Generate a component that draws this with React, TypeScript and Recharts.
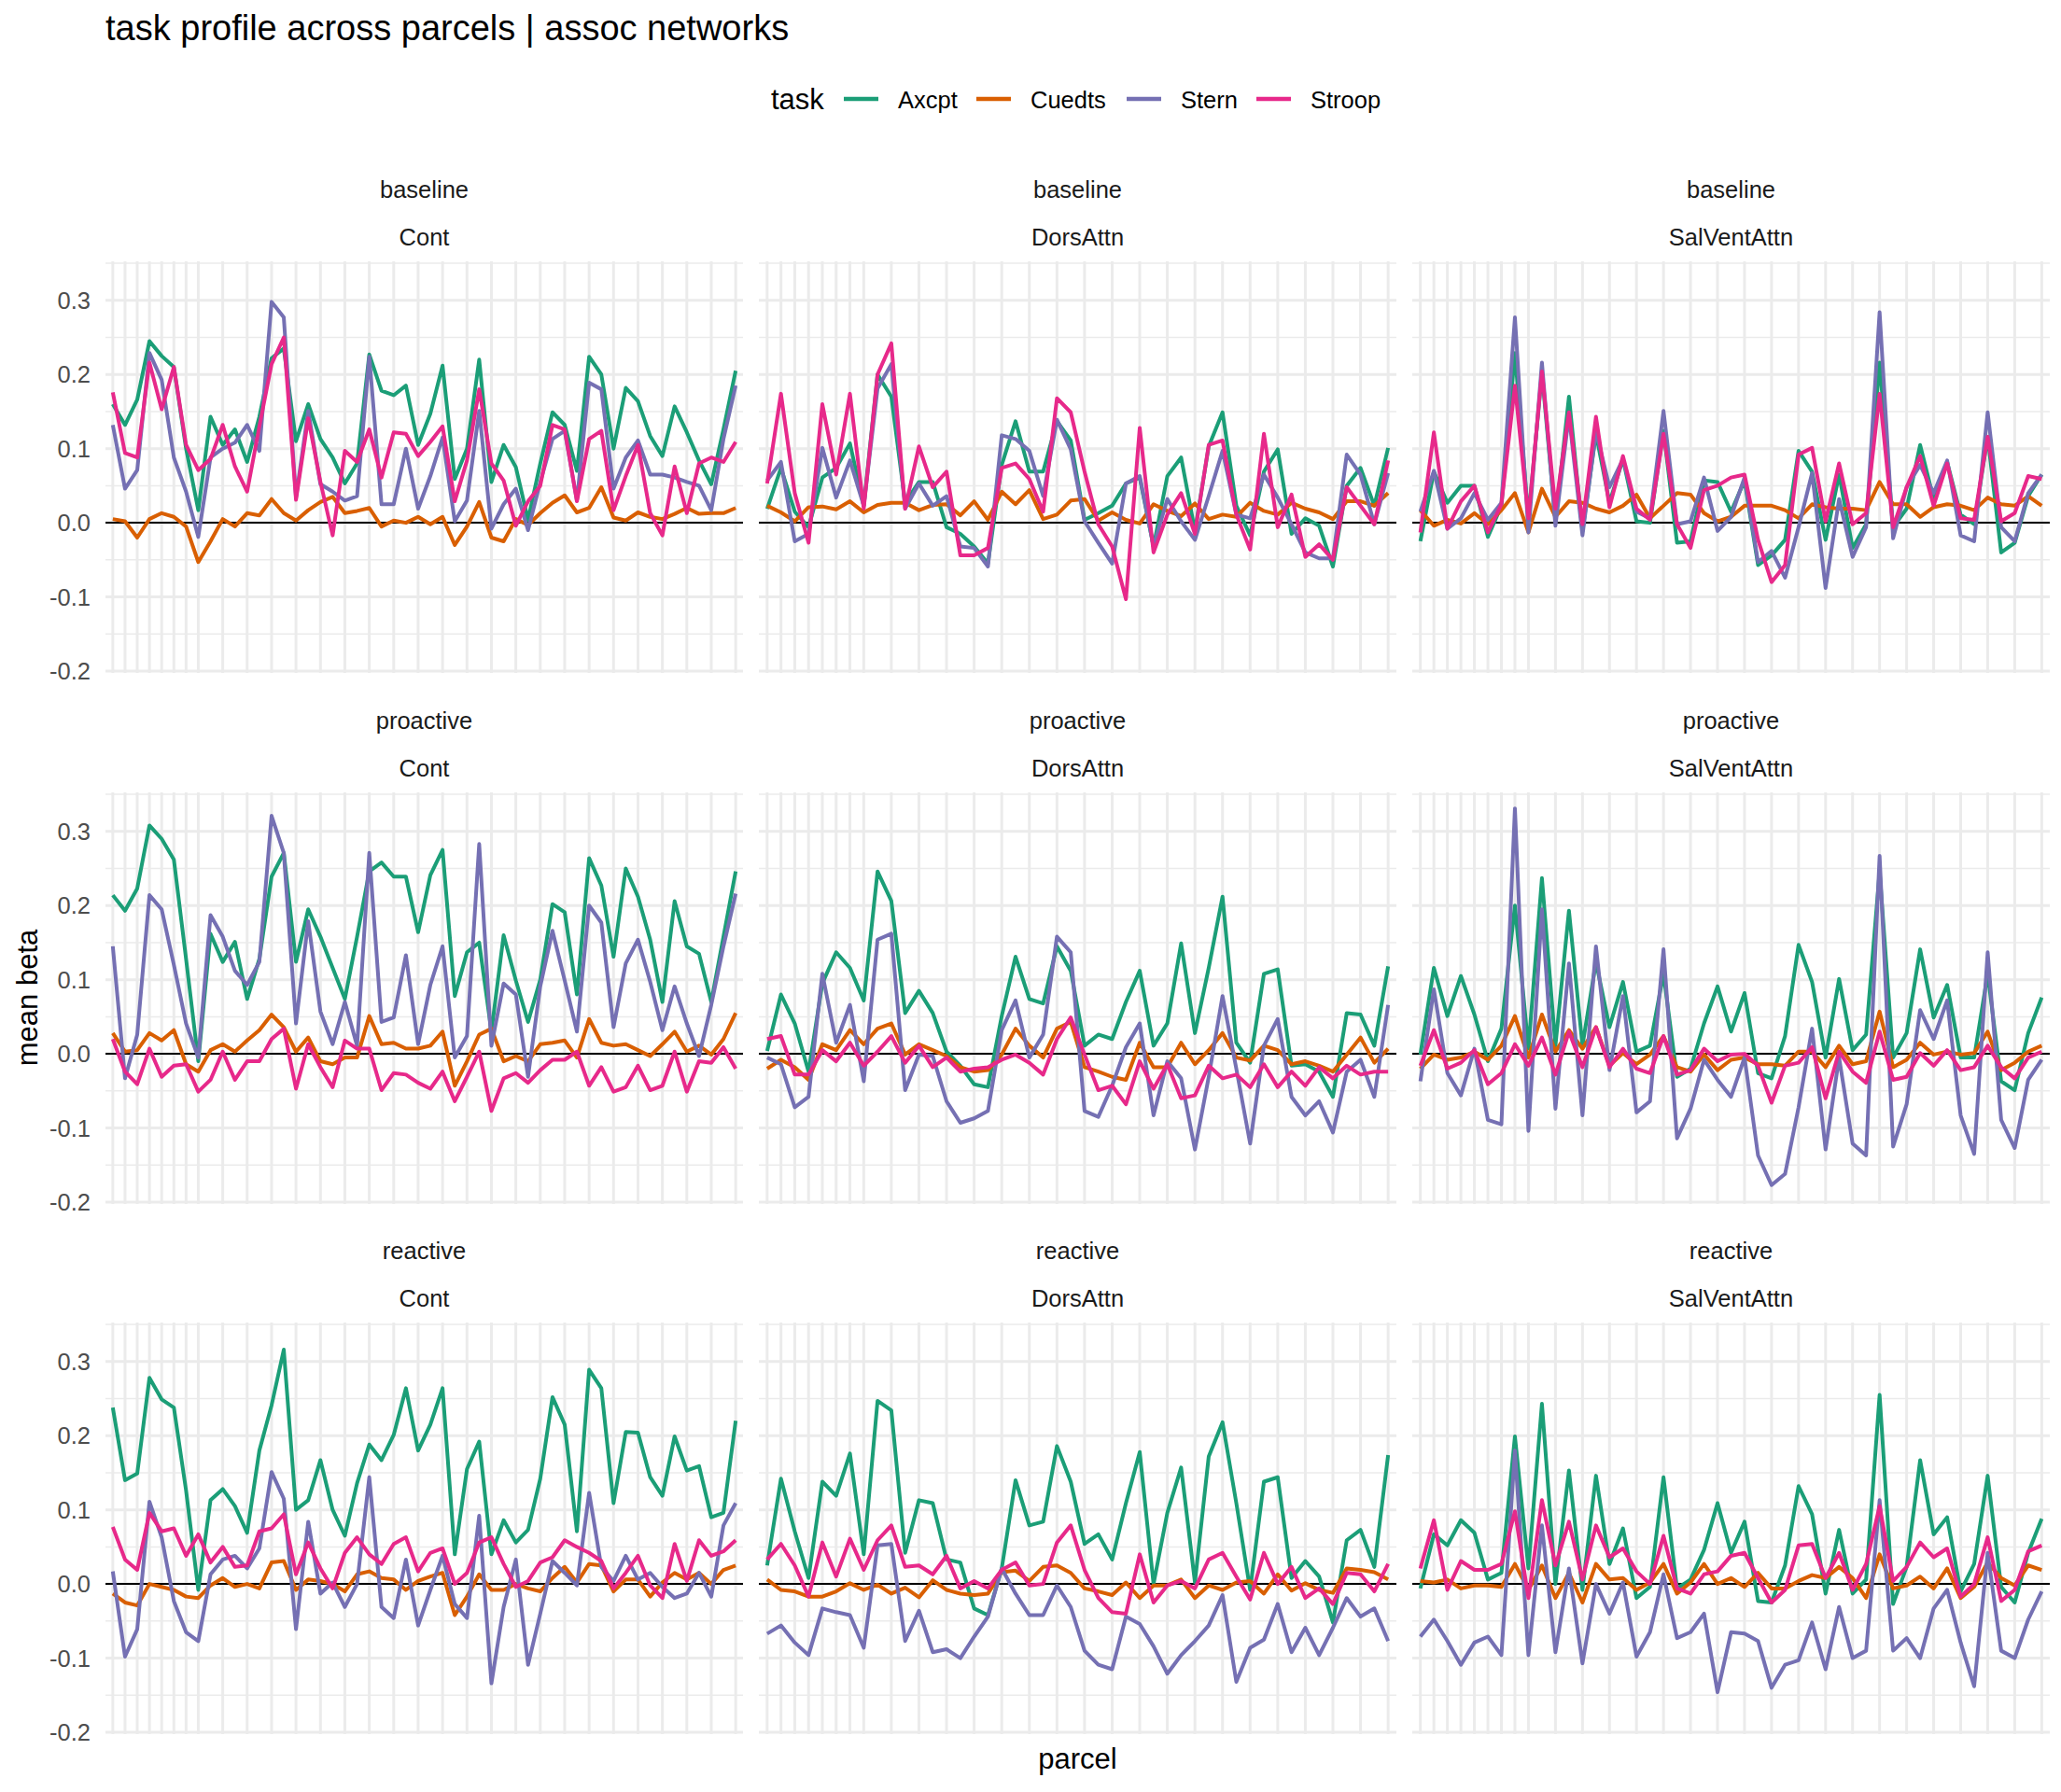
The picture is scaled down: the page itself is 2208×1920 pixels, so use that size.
import { CartesianGrid, Line, LineChart, ReferenceLine, XAxis, YAxis } from "recharts";

const tasks = ["Axcpt", "Cuedts", "Stern", "Stroop"];
const taskColors = ["#1B9E77", "#D95F02", "#7570B3", "#E7298A"];
const conditions = ["baseline", "proactive", "reactive"];
const networks = ["Cont", "DorsAttn", "SalVentAttn"];
const yTicks = [-0.2, -0.1, 0, 0.1, 0.2, 0.3];
const yMinorTicks = [-0.15, -0.05, 0.05, 0.15, 0.25, 0.35];

// ---- baseline ----
const baseContAxcpt = [0.16, 0.132, 0.166, 0.245, 0.225, 0.21, 0.1, 0.017, 0.143, 0.105, 0.126, 0.082, 0.143, 0.222, 0.235, 0.11, 0.16, 0.113, 0.088, 0.053, 0.08, 0.227, 0.178, 0.172, 0.185, 0.105, 0.147, 0.212, 0.059, 0.1, 0.22, 0.055, 0.105, 0.075, 0.004, 0.08, 0.149, 0.132, 0.07, 0.224, 0.2, 0.1, 0.182, 0.164, 0.117, 0.09, 0.157, 0.122, 0.084, 0.052, 0.126, 0.205];
const baseContCuedts = [0.005, 0.002, -0.02, 0.005, 0.013, 0.008, -0.005, -0.053, -0.025, 0.005, -0.005, 0.013, 0.01, 0.032, 0.013, 0.003, 0.017, 0.028, 0.035, 0.013, 0.016, 0.02, -0.005, 0.003, 0.0, 0.008, -0.002, 0.008, -0.03, -0.005, 0.028, -0.02, -0.025, 0.005, -0.003, 0.013, 0.027, 0.037, 0.014, 0.02, 0.048, 0.007, 0.003, 0.014, 0.008, 0.005, 0.012, 0.02, 0.012, 0.013, 0.013, 0.02];
const baseContStern = [0.132, 0.046, 0.071, 0.229, 0.193, 0.088, 0.042, -0.019, 0.088, 0.1, 0.108, 0.132, 0.097, 0.298, 0.277, 0.034, 0.151, 0.052, 0.042, 0.03, 0.036, 0.224, 0.025, 0.025, 0.1, 0.019, 0.063, 0.115, 0.002, 0.03, 0.151, -0.008, 0.025, 0.046, -0.01, 0.055, 0.113, 0.124, 0.03, 0.189, 0.18, 0.046, 0.088, 0.111, 0.065, 0.065, 0.061, 0.055, 0.05, 0.017, 0.113, 0.185];
const baseContStroop = [0.176, 0.094, 0.088, 0.216, 0.153, 0.21, 0.105, 0.071, 0.086, 0.132, 0.076, 0.042, 0.13, 0.214, 0.25, 0.031, 0.141, 0.055, -0.017, 0.097, 0.082, 0.126, 0.061, 0.122, 0.12, 0.09, 0.109, 0.13, 0.029, 0.084, 0.18, 0.08, 0.057, -0.004, 0.029, 0.05, 0.132, 0.126, 0.029, 0.113, 0.124, 0.017, 0.063, 0.105, 0.013, -0.017, 0.076, 0.013, 0.08, 0.088, 0.082, 0.109];

const baseDorsAxcpt = [0.019, 0.074, 0.015, -0.006, 0.061, 0.074, 0.107, 0.023, 0.2, 0.17, 0.027, 0.055, 0.055, -0.006, -0.015, -0.032, -0.055, 0.078, 0.137, 0.069, 0.069, 0.137, 0.111, 0.004, 0.013, 0.023, 0.053, 0.061, -0.032, 0.063, 0.088, -0.011, 0.103, 0.149, 0.023, -0.017, 0.069, 0.099, -0.015, 0.006, -0.004, -0.059, 0.05, 0.074, 0.023, 0.101];
const baseDorsCuedts = [0.023, 0.014, 0.002, 0.021, 0.022, 0.018, 0.029, 0.014, 0.024, 0.027, 0.027, 0.017, 0.024, 0.025, 0.01, 0.029, 0.004, 0.042, 0.025, 0.044, 0.005, 0.011, 0.03, 0.032, 0.003, 0.014, 0.004, -0.001, 0.025, 0.016, 0.009, 0.026, 0.005, 0.011, 0.008, 0.027, 0.016, 0.011, 0.027, 0.019, 0.014, 0.005, 0.029, 0.029, 0.023, 0.04];
const baseDorsStern = [0.057, 0.082, -0.025, -0.015, 0.101, 0.034, 0.084, 0.023, 0.181, 0.214, 0.019, 0.053, 0.023, 0.036, -0.032, -0.034, -0.059, 0.118, 0.113, 0.097, 0.036, 0.139, 0.099, 0.002, -0.027, -0.055, 0.053, 0.063, -0.032, 0.032, 0.002, -0.023, 0.036, 0.097, 0.011, 0.006, 0.065, 0.034, -0.002, -0.04, -0.048, -0.048, 0.092, 0.065, -0.002, 0.067];
const baseDorsStroop = [0.053, 0.174, 0.04, -0.027, 0.16, 0.065, 0.174, 0.019, 0.2, 0.242, 0.019, 0.103, 0.048, 0.069, -0.044, -0.044, -0.034, 0.074, 0.08, 0.059, 0.015, 0.168, 0.149, 0.069, -0.002, -0.032, -0.103, 0.128, -0.04, 0.011, 0.04, -0.015, 0.105, 0.111, 0.011, -0.036, 0.12, -0.006, 0.038, -0.046, -0.029, -0.05, 0.048, 0.023, -0.002, 0.084];

const baseSalAxcpt = [-0.025, 0.069, 0.027, 0.05, 0.05, -0.019, 0.023, 0.229, 0.006, 0.202, 0.002, 0.17, -0.011, 0.12, 0.027, 0.086, 0.002, 0.0, 0.124, -0.027, -0.025, 0.057, 0.055, 0.015, 0.057, -0.057, -0.044, -0.023, 0.097, 0.069, -0.023, 0.065, -0.034, -0.002, 0.216, -0.006, 0.019, 0.105, 0.032, 0.082, 0.011, -0.002, 0.116, -0.04, -0.027, 0.036, 0.065];
const baseSalCuedts = [0.017, -0.004, 0.004, -0.001, 0.013, -0.002, 0.017, 0.04, -0.013, 0.046, 0.008, 0.029, 0.027, 0.019, 0.014, 0.023, 0.038, 0.006, 0.023, 0.04, 0.038, 0.013, 0.002, 0.008, 0.023, 0.023, 0.023, 0.017, 0.006, 0.025, 0.021, 0.019, 0.019, 0.017, 0.055, 0.025, 0.025, 0.008, 0.021, 0.025, 0.023, 0.017, 0.034, 0.025, 0.023, 0.036, 0.023];
const baseSalStern = [0.015, 0.07, -0.008, 0.006, 0.04, 0.004, 0.027, 0.277, -0.013, 0.216, -0.004, 0.145, -0.017, 0.124, 0.048, 0.086, 0.015, 0.006, 0.151, -0.002, 0.002, 0.061, -0.011, 0.008, 0.061, -0.053, -0.038, -0.074, -0.006, 0.067, -0.088, 0.032, -0.046, -0.006, 0.284, -0.021, 0.048, 0.078, 0.04, 0.084, -0.017, -0.025, 0.149, -0.006, -0.025, 0.04, 0.065];
const baseSalStroop = [-0.013, 0.122, -0.008, 0.029, 0.05, -0.013, 0.025, 0.185, 0.006, 0.204, 0.019, 0.149, -0.002, 0.143, 0.021, 0.09, 0.019, 0.004, 0.12, -0.002, -0.034, 0.044, 0.05, 0.061, 0.065, -0.023, -0.08, -0.057, 0.092, 0.101, 0.002, 0.08, -0.002, 0.013, 0.174, -0.006, 0.048, 0.09, 0.023, 0.08, 0.006, 0.004, 0.116, 0.002, 0.013, 0.063, 0.059];

// ---- proactive ----
const proContAxcpt = [0.214, 0.193, 0.223, 0.308, 0.29, 0.262, 0.128, -0.01, 0.162, 0.124, 0.151, 0.074, 0.128, 0.239, 0.271, 0.124, 0.195, 0.158, 0.116, 0.074, 0.158, 0.246, 0.258, 0.239, 0.239, 0.164, 0.241, 0.275, 0.078, 0.137, 0.15, 0.03, 0.16, 0.099, 0.043, 0.1, 0.202, 0.191, 0.08, 0.264, 0.227, 0.131, 0.25, 0.212, 0.154, 0.07, 0.206, 0.145, 0.135, 0.07, 0.158, 0.246];
const proContCuedts = [0.028, 0.003, 0.005, 0.028, 0.018, 0.032, -0.014, -0.024, 0.005, 0.013, 0.003, 0.018, 0.032, 0.053, 0.036, 0.003, 0.022, -0.01, -0.014, -0.005, -0.005, 0.051, 0.013, 0.015, 0.007, 0.007, 0.011, 0.03, -0.043, -0.01, 0.026, 0.034, -0.01, -0.003, -0.01, 0.013, 0.015, 0.018, -0.005, 0.047, 0.015, 0.011, 0.013, 0.005, -0.003, 0.013, 0.03, 0.003, 0.011, -0.001, 0.02, 0.055];
const proContStern = [0.145, -0.033, 0.026, 0.214, 0.195, 0.12, 0.041, -0.005, 0.187, 0.158, 0.112, 0.093, 0.124, 0.321, 0.271, 0.041, 0.179, 0.057, 0.013, 0.07, 0.011, 0.271, 0.043, 0.049, 0.133, 0.013, 0.093, 0.145, -0.005, 0.024, 0.283, 0.011, 0.095, 0.08, -0.031, 0.091, 0.166, 0.099, 0.03, 0.2, 0.177, 0.036, 0.122, 0.154, 0.097, 0.032, 0.091, 0.041, -0.003, 0.066, 0.145, 0.216];
const proContStroop = [0.02, -0.024, -0.041, 0.007, -0.031, -0.016, -0.014, -0.051, -0.035, 0.003, -0.035, -0.01, -0.01, 0.02, 0.034, -0.047, 0.013, -0.018, -0.045, 0.018, 0.007, 0.007, -0.049, -0.026, -0.028, -0.039, -0.047, -0.024, -0.064, -0.031, 0.003, -0.077, -0.033, -0.026, -0.039, -0.022, -0.008, -0.008, 0.003, -0.043, -0.018, -0.051, -0.045, -0.016, -0.049, -0.043, 0.003, -0.051, -0.01, -0.012, 0.009, -0.02];

const proDorsAxcpt = [0.004, 0.08, 0.041, -0.024, 0.095, 0.137, 0.116, 0.072, 0.246, 0.206, 0.055, 0.085, 0.055, 0.003, -0.016, -0.041, -0.045, 0.051, 0.131, 0.074, 0.068, 0.145, 0.112, 0.011, 0.026, 0.02, 0.07, 0.112, 0.011, 0.041, 0.149, 0.028, 0.116, 0.212, 0.015, -0.012, 0.108, 0.114, -0.016, -0.014, -0.024, -0.058, 0.055, 0.053, 0.011, 0.118];
const proDorsCuedts = [-0.02, -0.008, -0.018, -0.035, 0.013, 0.005, 0.032, 0.013, 0.034, 0.041, -0.001, 0.013, 0.005, -0.003, -0.018, -0.024, -0.022, -0.001, 0.034, 0.011, -0.005, 0.034, 0.043, -0.018, -0.024, -0.031, -0.035, 0.015, -0.018, -0.018, 0.015, -0.014, 0.005, 0.028, -0.005, -0.009, 0.011, 0.005, -0.014, -0.01, -0.016, -0.024, -0.001, 0.022, -0.012, 0.007];
const proDorsStern = [-0.005, -0.014, -0.072, -0.058, 0.108, 0.015, 0.066, -0.037, 0.154, 0.162, -0.049, -0.001, -0.003, -0.064, -0.093, -0.087, -0.077, 0.032, 0.072, -0.005, 0.026, 0.158, 0.137, -0.077, -0.085, -0.043, 0.009, 0.041, -0.083, -0.01, -0.033, -0.129, -0.031, 0.078, -0.02, -0.121, 0.011, 0.047, -0.058, -0.083, -0.064, -0.106, -0.024, -0.008, -0.058, 0.066];
const proDorsStroop = [0.02, 0.024, -0.028, -0.028, 0.005, -0.01, 0.015, -0.016, 0.003, 0.024, -0.012, 0.011, -0.018, -0.005, -0.024, -0.02, -0.018, -0.008, -0.001, -0.012, -0.028, 0.02, 0.049, -0.001, -0.049, -0.043, -0.068, -0.01, -0.047, -0.014, -0.06, -0.056, -0.016, -0.033, -0.028, -0.045, -0.014, -0.045, -0.024, -0.043, -0.018, -0.033, -0.016, -0.028, -0.024, -0.024];

const proSalAxcpt = [-0.001, 0.116, 0.051, 0.105, 0.053, -0.01, 0.034, 0.2, 0.007, 0.237, 0.011, 0.193, 0.011, 0.124, 0.036, 0.097, 0.003, 0.011, 0.108, -0.031, -0.02, 0.041, 0.091, 0.03, 0.082, -0.026, -0.033, 0.024, 0.147, 0.097, -0.005, 0.101, 0.005, 0.026, 0.246, -0.005, 0.028, 0.141, 0.049, 0.093, -0.005, -0.005, 0.108, -0.037, -0.049, 0.028, 0.076];
const proSalCuedts = [-0.02, -0.001, -0.008, -0.005, 0.003, -0.008, 0.011, 0.051, -0.005, 0.053, 0.003, 0.032, 0.007, 0.036, -0.016, 0.001, -0.014, -0.001, 0.024, -0.018, -0.024, -0.001, -0.022, -0.008, -0.005, -0.014, -0.014, -0.016, 0.003, 0.003, -0.018, 0.011, -0.014, -0.01, 0.057, -0.018, -0.008, 0.015, -0.001, 0.003, -0.001, 0.001, 0.03, -0.022, -0.012, 0.003, 0.011];
const proSalStern = [-0.037, 0.087, -0.026, -0.056, 0.007, -0.089, -0.095, 0.331, -0.104, 0.195, -0.074, 0.122, -0.083, 0.145, -0.022, 0.078, -0.079, -0.064, 0.141, -0.114, -0.074, -0.008, -0.035, -0.058, -0.005, -0.137, -0.177, -0.162, -0.072, 0.034, -0.129, -0.005, -0.121, -0.137, 0.267, -0.125, -0.068, 0.059, 0.02, 0.072, -0.083, -0.135, 0.137, -0.089, -0.127, -0.035, -0.008];
const proSalStroop = [-0.016, 0.032, -0.02, -0.012, 0.005, -0.041, -0.026, 0.013, -0.016, 0.022, -0.028, 0.03, -0.018, 0.036, -0.018, 0.007, -0.02, -0.026, 0.024, -0.028, -0.022, 0.007, -0.01, -0.001, 0.0, -0.016, -0.066, -0.016, -0.012, 0.009, -0.06, 0.003, -0.024, -0.039, 0.03, -0.035, -0.031, 0.001, -0.016, 0.005, -0.022, -0.018, 0.011, -0.018, -0.033, -0.005, 0.003];

// ---- reactive ----
const reaContAxcpt = [0.238, 0.14, 0.149, 0.278, 0.249, 0.238, 0.126, -0.008, 0.113, 0.128, 0.105, 0.069, 0.18, 0.241, 0.316, 0.1, 0.113, 0.167, 0.1, 0.065, 0.136, 0.188, 0.167, 0.201, 0.264, 0.18, 0.215, 0.264, 0.04, 0.155, 0.192, 0.04, 0.086, 0.056, 0.073, 0.142, 0.252, 0.215, 0.071, 0.289, 0.264, 0.109, 0.205, 0.204, 0.144, 0.119, 0.199, 0.153, 0.159, 0.09, 0.096, 0.22];
const reaContCuedts = [-0.013, -0.025, -0.029, 0.0, -0.004, -0.008, -0.017, -0.019, -0.002, 0.008, -0.004, 0.0, -0.006, 0.029, 0.031, -0.008, 0.006, 0.004, 0.0, -0.01, 0.013, 0.017, 0.008, 0.006, -0.008, 0.004, 0.01, 0.015, -0.042, -0.017, 0.013, -0.008, -0.008, 0.0, -0.006, -0.01, 0.008, 0.023, 0.002, 0.027, 0.025, -0.01, 0.006, 0.006, -0.017, 0.002, 0.015, 0.006, 0.015, 0.0, 0.019, 0.025];
const reaContStern = [0.017, -0.098, -0.061, 0.111, 0.063, -0.023, -0.065, -0.077, 0.013, 0.033, 0.038, 0.021, 0.048, 0.151, 0.115, -0.061, 0.084, -0.013, 0.002, -0.031, 0.0, 0.144, -0.031, -0.046, 0.033, -0.056, -0.008, 0.038, -0.027, -0.046, 0.092, -0.134, -0.031, 0.033, -0.109, -0.04, 0.031, 0.015, -0.002, 0.123, 0.023, 0.004, 0.038, 0.006, 0.015, -0.004, -0.019, -0.013, 0.015, -0.017, 0.079, 0.109];
const reaContStroop = [0.077, 0.033, 0.019, 0.096, 0.071, 0.075, 0.038, 0.067, 0.029, 0.05, 0.023, 0.025, 0.071, 0.075, 0.094, 0.013, 0.056, 0.021, -0.006, 0.042, 0.063, 0.04, 0.027, 0.054, 0.063, 0.017, 0.042, 0.048, 0.0, 0.015, 0.056, 0.063, 0.027, -0.004, 0.004, 0.029, 0.036, 0.059, 0.05, 0.042, 0.031, -0.006, 0.015, 0.038, -0.002, -0.019, 0.054, 0.004, 0.059, 0.038, 0.044, 0.059];

const reaDorsAxcpt = [0.025, 0.142, 0.071, 0.008, 0.138, 0.119, 0.176, 0.04, 0.247, 0.234, 0.042, 0.113, 0.109, 0.033, 0.029, -0.033, -0.042, 0.021, 0.14, 0.079, 0.084, 0.186, 0.138, 0.054, 0.067, 0.033, 0.109, 0.178, 0.0, 0.096, 0.157, 0.002, 0.172, 0.218, 0.109, -0.008, 0.138, 0.144, 0.008, 0.031, 0.01, -0.052, 0.059, 0.073, 0.023, 0.174];
const reaDorsCuedts = [0.006, -0.008, -0.01, -0.017, -0.017, -0.01, 0.001, -0.008, -0.001, -0.013, -0.005, -0.018, 0.005, -0.008, -0.013, -0.015, -0.013, 0.016, 0.018, 0.004, 0.023, 0.025, 0.015, -0.006, -0.01, -0.015, 0.002, -0.019, -0.002, -0.002, 0.006, -0.019, -0.002, -0.008, 0.002, 0.004, -0.013, 0.013, -0.009, 0.001, -0.008, -0.012, 0.021, 0.019, 0.016, 0.006];
const reaDorsStern = [-0.067, -0.056, -0.079, -0.096, -0.033, -0.038, -0.042, -0.086, 0.052, 0.054, -0.077, -0.036, -0.092, -0.088, -0.1, -0.071, -0.044, 0.021, -0.013, -0.042, -0.042, -0.002, -0.031, -0.09, -0.109, -0.115, -0.044, -0.054, -0.084, -0.121, -0.096, -0.077, -0.056, -0.015, -0.132, -0.086, -0.075, -0.027, -0.092, -0.059, -0.096, -0.059, -0.019, -0.044, -0.033, -0.077];
const reaDorsStroop = [0.033, 0.054, 0.025, -0.017, 0.056, 0.01, 0.061, 0.019, 0.059, 0.079, 0.023, 0.025, 0.013, 0.038, -0.006, 0.004, -0.006, 0.019, 0.029, -0.002, 0.0, 0.056, 0.079, 0.019, -0.019, -0.038, -0.04, 0.04, -0.025, -0.002, 0.004, -0.006, 0.033, 0.042, 0.01, -0.021, 0.042, 0.0, 0.023, -0.019, -0.006, -0.027, 0.015, 0.013, -0.01, 0.027];

const reaSalAxcpt = [-0.006, 0.067, 0.052, 0.086, 0.069, 0.006, 0.015, 0.199, 0.021, 0.243, 0.0, 0.153, -0.008, 0.146, 0.027, 0.075, -0.019, -0.004, 0.144, -0.006, 0.006, 0.046, 0.109, 0.042, 0.084, -0.023, -0.025, 0.025, 0.132, 0.094, -0.013, 0.073, -0.013, 0.006, 0.255, -0.027, 0.023, 0.167, 0.067, 0.09, -0.01, 0.027, 0.146, -0.004, -0.025, 0.042, 0.088];
const reaSalCuedts = [0.004, 0.002, 0.006, -0.006, -0.002, -0.002, -0.004, 0.027, -0.008, 0.025, -0.019, 0.015, -0.025, 0.027, 0.006, 0.008, -0.008, 0.002, 0.027, -0.013, 0.002, 0.027, 0.0, 0.008, -0.004, 0.015, -0.006, -0.006, 0.004, 0.012, 0.008, 0.023, 0.008, -0.019, 0.04, -0.006, -0.002, 0.01, -0.006, 0.021, -0.019, -0.004, 0.029, 0.008, -0.002, 0.025, 0.019];
const reaSalStern = [-0.071, -0.048, -0.077, -0.109, -0.079, -0.071, -0.096, 0.18, -0.096, 0.079, -0.092, 0.021, -0.107, 0.0, -0.04, 0.002, -0.098, -0.065, 0.013, -0.073, -0.065, -0.04, -0.146, -0.065, -0.067, -0.077, -0.14, -0.109, -0.103, -0.052, -0.115, -0.031, -0.1, -0.09, 0.113, -0.09, -0.073, -0.1, -0.033, -0.008, -0.079, -0.138, 0.042, -0.09, -0.1, -0.048, -0.01];
const reaSalStroop = [0.021, 0.086, -0.008, 0.031, 0.019, 0.019, 0.027, 0.098, -0.019, 0.113, 0.025, 0.084, 0.006, 0.079, 0.036, 0.048, 0.017, 0.0, 0.065, -0.006, -0.013, 0.013, 0.017, 0.038, 0.042, 0.008, -0.025, -0.008, 0.052, 0.054, 0.008, 0.042, -0.008, 0.027, 0.105, 0.004, 0.023, 0.056, 0.036, 0.048, -0.017, 0.0, 0.063, -0.023, -0.008, 0.044, 0.052];

// rows = condition, columns = network; each cell holds the four task series in `tasks` order
const panelSeries = [
  [
    [baseContAxcpt, baseContCuedts, baseContStern, baseContStroop],
    [baseDorsAxcpt, baseDorsCuedts, baseDorsStern, baseDorsStroop],
    [baseSalAxcpt, baseSalCuedts, baseSalStern, baseSalStroop],
  ],
  [
    [proContAxcpt, proContCuedts, proContStern, proContStroop],
    [proDorsAxcpt, proDorsCuedts, proDorsStern, proDorsStroop],
    [proSalAxcpt, proSalCuedts, proSalStern, proSalStroop],
  ],
  [
    [reaContAxcpt, reaContCuedts, reaContStern, reaContStroop],
    [reaDorsAxcpt, reaDorsCuedts, reaDorsStern, reaDorsStroop],
    [reaSalAxcpt, reaSalCuedts, reaSalStern, reaSalStroop],
  ],
];

const FONT = "'Liberation Sans', Arial, sans-serif";
const GRID = "#EBEBEB";
const PANEL_X = [113, 813, 1513];
const PANEL_Y = [280, 848.5, 1417];
const PANEL_W = 683;
const PANEL_H = 441;
const BELOW = 24; // room under the panel so the -0.2 label is not clipped
const Y_AXIS_W = 113;
const Y_DOMAIN: [number, number] = [-0.2025, 0.3526];
const LEGEND_KEY_X = [904, 1046, 1207, 1346];

function Panel(props: { row: number; col: number; series: number[][] }) {
  const { row, col, series } = props;
  const n = series[0].length;
  const parcels = series[0].map((_, k) => k + 1);
  const data = parcels.map((p, k) => {
    const rec: any = { parcel: p };
    tasks.forEach((t, j) => (rec[t] = series[j][k]));
    return rec;
  });
  const first = col === 0;
  const w = first ? PANEL_W + Y_AXIS_W : PANEL_W;

  return (
    <div style={{ position: "absolute", left: first ? 0 : PANEL_X[col], top: PANEL_Y[row] }}>
      <LineChart width={w} height={PANEL_H + BELOW} data={data} margin={{ top: 0, right: 0, bottom: BELOW, left: 0 }}>
        <XAxis type="number" dataKey="parcel" domain={[0.4, n + 0.6]} allowDataOverflow hide />
        <YAxis
          type="number"
          domain={Y_DOMAIN}
          allowDataOverflow
          ticks={yTicks}
          interval={0}
          hide={!first}
          width={first ? Y_AXIS_W : 0}
          axisLine={false}
          tickLine={false}
          tickSize={0}
          tickMargin={16}
          tick={{ fill: "#4D4D4D", fontSize: 25.5, fontFamily: FONT }}
          tickFormatter={(v: number) => v.toFixed(1)}
        />
        <CartesianGrid horizontalValues={yMinorTicks} vertical={false} stroke={GRID} strokeWidth={1.5} />
        <CartesianGrid horizontalValues={yTicks} verticalValues={parcels} stroke={GRID} strokeWidth={3} />
        <ReferenceLine y={0} stroke="#000000" strokeWidth={2} />
        {tasks.map((t, j) => (
          <Line
            key={t}
            type="linear"
            dataKey={t}
            stroke={taskColors[j]}
            strokeWidth={4}
            strokeLinejoin="round"
            dot={false}
            activeDot={false}
            isAnimationActive={false}
          />
        ))}
      </LineChart>
    </div>
  );
}

export default function App() {
  return (
    <div style={{ position: "absolute", left: 0, top: 0, width: 2208, height: 1920, background: "#fff", fontFamily: FONT }}>
      <svg width={2208} height={1920} style={{ position: "absolute", left: 0, top: 0 }}>
        <text x={113} y={43} fontSize={38} fill="#000">
          task profile across parcels | assoc networks
        </text>

        <text x={826} y={117} fontSize={31} fill="#000">
          task
        </text>
        {tasks.map((t, j) => (
          <g key={t}>
            <line x1={LEGEND_KEY_X[j]} x2={LEGEND_KEY_X[j] + 37} y1={106} y2={106} stroke={taskColors[j]} strokeWidth={4.5} />
            <text x={LEGEND_KEY_X[j] + 58} y={116} fontSize={25.5} fill="#000">
              {t}
            </text>
          </g>
        ))}

        {conditions.map((c, r) =>
          networks.map((nw, k) => (
            <g key={c + nw}>
              <text x={PANEL_X[k] + PANEL_W / 2} y={PANEL_Y[r] - 68} textAnchor="middle" fontSize={25.5} fill="#1A1A1A">
                {c}
              </text>
              <text x={PANEL_X[k] + PANEL_W / 2} y={PANEL_Y[r] - 17} textAnchor="middle" fontSize={25.5} fill="#1A1A1A">
                {nw}
              </text>
            </g>
          ))
        )}

        <text x={PANEL_X[1] + PANEL_W / 2} y={1895} textAnchor="middle" fontSize={31} fill="#000">
          parcel
        </text>
        <text x={40} y={1069} textAnchor="middle" fontSize={31} fill="#000" transform="rotate(-90 40 1069)">
          mean beta
        </text>
      </svg>

      {panelSeries.map((rowSeries, r) =>
        rowSeries.map((s, c) => <Panel key={`${r}-${c}`} row={r} col={c} series={s} />)
      )}
    </div>
  );
}
